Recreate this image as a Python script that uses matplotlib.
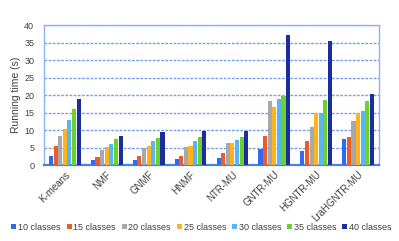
import matplotlib
matplotlib.use("Agg")
import matplotlib.pyplot as plt
import matplotlib.transforms as mtransforms
import numpy as np

plt.rcParams['font.family'] = ['Liberation Sans', 'DejaVu Sans']

methods = ["K-means", "NMF", "GNMF", "HNMF", "NTR-MU", "GNTR-MU", "HGNTR-MU", "LraHGNTR-MU"]
series_names = ["10 classes", "15 classes", "20 classes", "25 classes", "30 classes", "35 classes", "40 classes"]
c10 = [2.8, 1.6, 1.6, 1.8, 2.0, 4.6, 4.2, 7.4]
c15 = [5.4, 2.5, 2.6, 2.7, 3.6, 8.5, 6.9, 8.0]
c20 = [8.4, 4.4, 5.0, 5.2, 6.3, 18.3, 11.0, 12.5]
c25 = [10.4, 5.1, 5.4, 5.6, 6.5, 16.5, 15.0, 15.0]
c30 = [12.8, 6.1, 6.9, 6.9, 7.3, 18.8, 15.0, 15.4]
c35 = [16.2, 7.4, 7.9, 8.1, 8.2, 19.7, 18.5, 18.3]
c40 = [19.0, 8.4, 9.4, 9.9, 9.7, 37.1, 35.4, 20.3]
series = [c10, c15, c20, c25, c30, c35, c40]
colors = ["#2F6BF0", "#EE5A2A", "#A5A9A9", "#FFB21F", "#5AB4F0", "#6CD12C", "#1C2E9E"]

fig = plt.figure(figsize=(3.99, 2.41), dpi=100)
ax = fig.add_axes([0.110, 0.314, 0.840, 0.582])

x = np.arange(len(methods))
w = 0.098
step = 0.11
for i, (vals, name, col) in enumerate(zip(series, series_names, colors)):
    ax.bar(x + (i - 3) * step, vals, width=w, color=col, label=name, zorder=3)

ax.set_xlim(-0.5, len(methods) - 0.5)
ax.set_ylim(0, 40)
ax.set_yticks(np.arange(0, 41, 5))
ax.yaxis.grid(True, linestyle=(0, (2, 1)), color="#7A9EF2", linewidth=1.0, zorder=0)
ax.set_axisbelow(True)
for s in ["top", "right", "left"]:
    ax.spines[s].set_color("#8FB0F6")
    ax.spines[s].set_linewidth(1.0)
ax.spines["bottom"].set_color("#4A7FF0")
ax.spines["bottom"].set_linewidth(1.6)

ax.set_xticks(x)
ax.set_xticklabels(methods, rotation=45, ha="right", va="top", rotation_mode="anchor",
                   fontsize=7, color="#404040")
offset = mtransforms.ScaledTranslation(6 / 100, 0, fig.dpi_scale_trans)
for lab in ax.get_xticklabels():
    lab.set_transform(lab.get_transform() + offset)
ax.tick_params(axis="both", length=0, labelsize=6.5, colors="#404040")
ax.tick_params(axis="y", pad=7)
ax.tick_params(axis="x", pad=3, labelsize=7)
ax.set_ylabel("Running time (s)", fontsize=7.5, color="#404040", labelpad=2)

fig.legend(loc="lower center", bbox_to_anchor=(0.505, 0.005), ncol=7, fontsize=6.5,
           frameon=False, handlelength=0.55, handleheight=0.55, handletextpad=0.2,
           columnspacing=0.65, labelcolor="#404040")

fig.savefig("out.png", dpi=100)
